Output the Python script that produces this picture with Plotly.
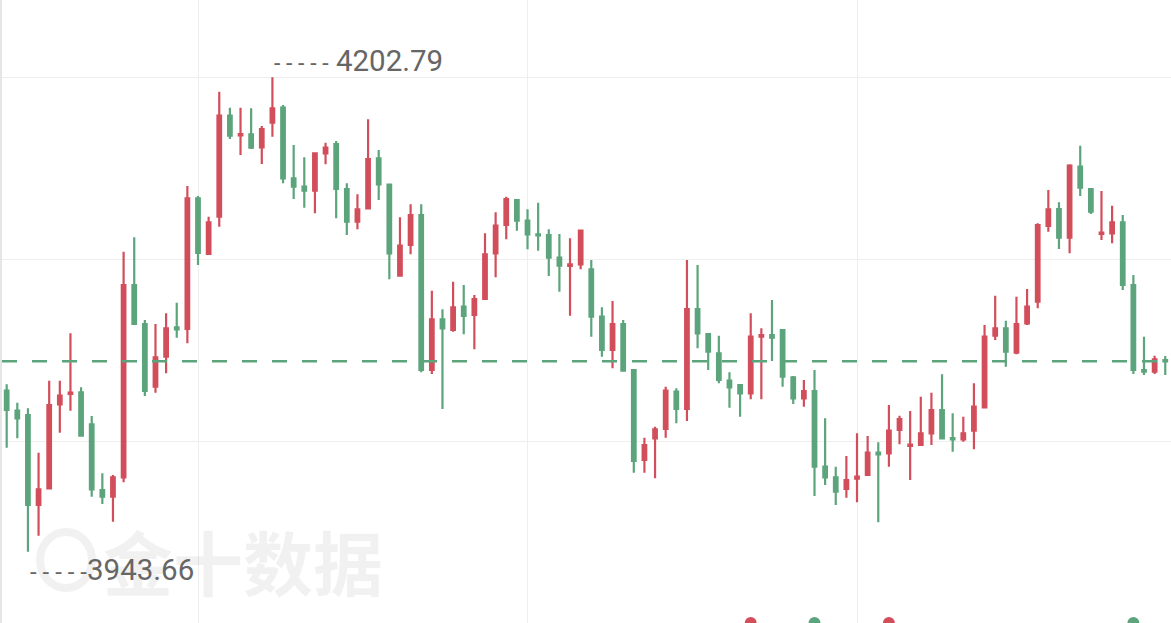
import plotly.graph_objects as go

# ---- data (candle index 0..109) ----
idx = list(range(110))
open_ = [4031.60, 4020.67, 4018.32, 3969.16, 3978.29, 4024.17, 4029.80, 4030.72, 4013.24, 3977.36,
         3973.70, 3984.29, 4089.33, 4068.03, 4033.78, 4050.17, 4066.23, 4065.30, 4136.69, 4106.27,
         4126.64, 4181.81, 4171.11, 4171.65, 4164.55, 4177.99, 4186.18, 4147.62, 4143.03, 4140.84,
         4161.27, 4166.35, 4141.77, 4123.91, 4131.23, 4158.54, 4144.20, 4094.41, 4111.18, 4127.57,
         4042.90, 4070.60, 4064.75, 4077.48, 4072.95, 4081.69, 4106.65, 4122.11, 4135.76, 4124.46,
         4117.03, 4116.65, 4104.25, 4099.71, 4100.64, 4097.91, 4072.02, 4053.83, 4068.03, 4042.90,
         3993.74, 4005.60, 4010.68, 4031.05, 4021.60, 4076.22, 4062.57, 4052.03, 4037.06, 4034.71,
         4030.18, 4061.09, 4062.02, 4064.75, 4038.92, 4027.45, 4031.43, 3990.08, 3984.29, 3977.90,
         3983.53, 3985.55, 3997.73, 3997.40, 4010.13, 4001.39, 4001.94, 4008.33, 4021.06, 4005.76,
         4005.05, 4009.75, 4022.53, 4061.64, 4065.68, 4052.35, 4068.41, 4080.21, 4121.56, 4130.85,
         4115.17, 4153.95, 4141.77, 4117.19, 4117.57, 4123.58, 4089.33, 4042.90, 4041.98, 4048.37]
high = [4035.09, 4025.04, 4021.98, 3997.73, 4037.06, 4037.06, 4062.95, 4033.46, 4017.78, 3986.48,
        3985.55, 4107.52, 4115.39, 4070.22, 4068.03, 4073.88, 4079.67, 4143.41, 4137.95, 4126.64,
        4194.92, 4186.18, 4186.18, 4185.85, 4176.19, 4202.79, 4187.66, 4165.81, 4159.09, 4161.50,
        4167.06, 4167.99, 4144.89, 4138.88, 4179.84, 4163.08, 4144.50, 4126.31, 4133.41, 4133.41,
        4086.22, 4076.06, 4091.14, 4089.33, 4083.87, 4117.57, 4129.05, 4137.57, 4136.15, 4130.68,
        4134.29, 4119.76, 4117.19, 4114.84, 4119.38, 4102.99, 4077.15, 4080.59, 4070.22, 4043.45,
        4005.93, 4011.93, 4033.78, 4032.91, 4102.99, 4100.26, 4062.95, 4061.64, 4041.65, 4035.26,
        4073.88, 4065.68, 4081.14, 4065.14, 4039.63, 4037.44, 4042.90, 4016.52, 3990.08, 3995.93,
        4008.33, 4006.85, 4003.41, 4023.79, 4017.94, 4020.51, 4028.32, 4030.51, 4040.56, 4019.25,
        4017.40, 4035.64, 4067.49, 4083.49, 4069.83, 4082.94, 4087.15, 4123.04, 4141.23, 4134.51,
        4155.26, 4165.42, 4142.16, 4140.68, 4132.65, 4127.57, 4094.80, 4061.09, 4050.72, 4050.55]
low = [4000.46, 4005.60, 3943.66, 3952.39, 3978.00, 4008.66, 4020.67, 4006.47, 3973.70, 3969.71,
       3960.04, 3981.56, 4067.49, 4028.70, 4030.51, 4041.10, 4060.55, 4057.49, 4100.26, 4106.00,
       4121.18, 4169.08, 4160.34, 4163.62, 4155.43, 4170.34, 4144.89, 4136.31, 4131.56, 4128.50,
       4155.26, 4125.77, 4116.65, 4119.76, 4131.10, 4135.76, 4092.45, 4093.87, 4106.10, 4041.65,
       4040.72, 4021.60, 4063.83, 4062.40, 4054.21, 4081.40, 4093.54, 4114.30, 4119.00, 4108.83,
       4108.07, 4094.25, 4085.67, 4072.57, 4097.91, 4061.09, 4050.17, 4043.83, 4041.98, 3986.81,
       3986.81, 3983.75, 4005.93, 4013.79, 4015.05, 4054.76, 4042.90, 4035.64, 4022.31, 4017.40,
       4026.90, 4026.90, 4047.82, 4033.78, 4024.33, 4022.86, 3974.08, 3980.09, 3969.16, 3973.15,
       3970.64, 3985.30, 3959.71, 3990.08, 4002.32, 3982.82, 4001.39, 4001.94, 4005.50, 3998.28,
       4003.74, 3999.59, 4021.98, 4059.29, 4044.71, 4051.48, 4067.49, 4076.61, 4118.45, 4109.00,
       4106.65, 4137.95, 4128.12, 4113.91, 4112.11, 4086.60, 4040.72, 4040.17, 4040.72, 4040.17]
close = [4021.06, 4016.52, 3969.16, 3977.74, 4023.79, 4028.87, 4030.51, 4007.02, 3977.74, 3973.70,
         3984.29, 4089.33, 4068.03, 4031.43, 4049.84, 4065.68, 4065.14, 4136.69, 4106.81, 4123.58,
         4181.81, 4170.89, 4171.82, 4164.33, 4174.55, 4185.85, 4147.62, 4143.03, 4140.84, 4161.27,
         4164.33, 4141.77, 4123.91, 4130.68, 4158.16, 4144.34, 4106.65, 4110.80, 4127.57, 4042.90,
         4070.60, 4065.68, 4077.15, 4072.40, 4081.69, 4106.10, 4121.73, 4136.31, 4124.46, 4117.03,
         4116.48, 4104.25, 4099.88, 4100.64, 4119.10, 4072.02, 4053.83, 4068.03, 4042.52, 3993.20,
         4001.94, 4010.51, 4031.60, 4021.60, 4076.22, 4062.95, 4052.90, 4037.44, 4033.46, 4030.18,
         4061.09, 4062.02, 4060.55, 4039.25, 4027.45, 4031.43, 3990.08, 3984.29, 3976.43, 3982.82,
         3984.62, 3997.73, 3996.86, 4009.75, 4016.14, 4002.10, 4008.33, 4021.06, 4005.60, 4005.05,
         4008.33, 4022.86, 4061.09, 4065.68, 4052.90, 4068.03, 4077.48, 4122.11, 4130.68, 4115.17,
         4154.50, 4142.48, 4129.37, 4117.90, 4123.58, 4089.33, 4042.90, 4041.98, 4048.75, 4047.66]

grid_x = [18, 49, 80]
grid_y = [4003.75, 4103.27, 4202.79]
y_range = [3904.71, 4245.01]
x_range = [-0.44, 109.54]

event_idx = [70, 76, 83, 106]
event_up = [True, False, True, False]

RED = "#D24E5B"
GREEN = "#5CA47C"
LABEL = "#666666"

hi_i = max(idx, key=lambda i: high[i])
lo_i = min(idx, key=lambda i: low[i])

fig = go.Figure()
fig.add_trace(go.Candlestick(
    x=idx, open=open_, high=high, low=low, close=close,
    increasing=dict(line=dict(color=RED, width=2.2), fillcolor=RED),
    decreasing=dict(line=dict(color=GREEN, width=2.2), fillcolor=GREEN),
    whiskerwidth=0, hoverinfo="skip", showlegend=False,
))

# bottom event markers (sit on the lower edge of the plot)
fig.add_trace(go.Scatter(
    x=event_idx, y=[y_range[0] + 0.01] * len(event_idx),
    mode="markers",
    marker=dict(size=12, color=[RED if u else GREEN for u in event_up], line=dict(width=0)),
    cliponaxis=False, hoverinfo="skip", showlegend=False,
))

# last price dashed line
fig.add_shape(type="line", xref="paper", x0=0, x1=1, y0=close[-1], y1=close[-1],
              line=dict(color=GREEN, width=2.5, dash="15px,15px"))

# watermark
fig.add_annotation(xref="paper", yref="paper", x=(243 - 2) / 1169, y=1 - 560 / 623,
                   xanchor="center", yanchor="middle",
                   text="<b>金十数据</b>", showarrow=False,
                   font=dict(family="Noto Sans CJK SC", size=70, color="rgba(0,0,0,0.055)"))
fig.add_shape(type="circle", xref="paper", yref="paper",
              x0=(40 - 2) / 1169, x1=(92 - 2) / 1169, y0=1 - 588 / 623, y1=1 - 532 / 623,
              line=dict(color="rgba(0,0,0,0.055)", width=8), layer="below")

# high / low labels
fig.add_annotation(x=hi_i, y=high[hi_i], xanchor="left", yanchor="middle", yshift=16,
                   text='<span style="font-size:23px">- - - - -</span> ' + f"{high[hi_i]:.2f}",
                   showarrow=False, font=dict(family="Roboto", size=29.5, color=LABEL))
fig.add_annotation(x=lo_i, y=low[lo_i], xanchor="left", yanchor="middle", yshift=-18,
                   text='<span style="font-size:24px">- - - - -</span>' + f"{low[lo_i]:.2f}",
                   showarrow=False, font=dict(family="Roboto", size=29.5, color=LABEL))

fig.update_layout(
    width=1171, height=623,
    margin=dict(l=2, r=0, t=0, b=0),
    paper_bgcolor="white", plot_bgcolor="white",
    boxgap=0.52, showlegend=False, hovermode=False,
    xaxis=dict(range=x_range, tickvals=grid_x, showticklabels=False, showgrid=True,
               gridcolor="#EEEEEE", gridwidth=1, zeroline=False, rangeslider=dict(visible=False),
               ticks=""),
    yaxis=dict(range=y_range, tickvals=grid_y, showticklabels=False, showgrid=True,
               gridcolor="#EEEEEE", gridwidth=1, zeroline=False, ticks="",
               showline=True, linecolor="#E6E6E6", linewidth=1.5),
)

fig.write_html("out.html")
